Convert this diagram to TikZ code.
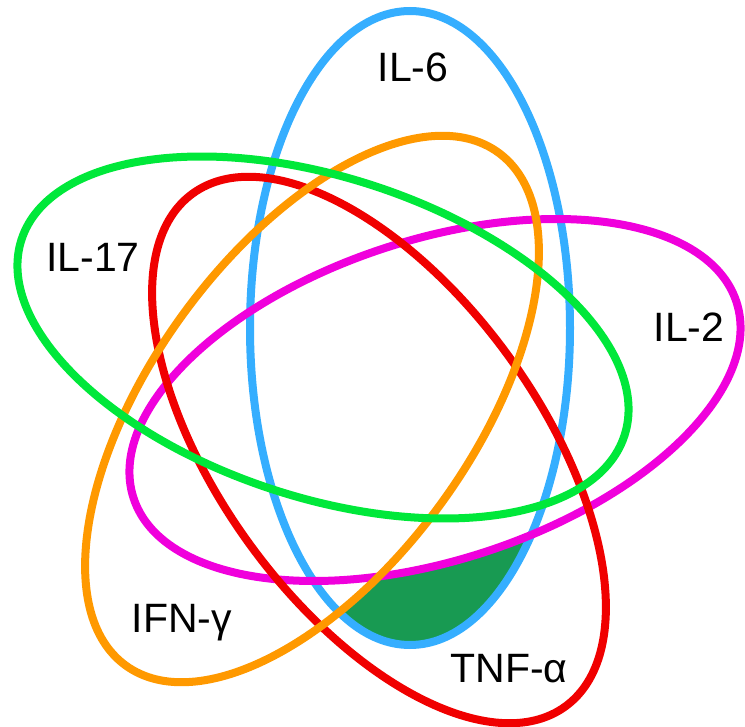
\documentclass[tikz,border=0pt]{standalone}
\usepackage{fontspec}
\setmainfont{Liberation Sans}
\definecolor{cblue}{RGB}{53,174,255}
\definecolor{cgreen}{RGB}{0,232,58}
\definecolor{cmag}{RGB}{240,0,220}
\definecolor{cred}{RGB}{240,0,0}
\definecolor{corange}{RGB}{255,153,0}
\definecolor{cfill}{RGB}{24,154,82}
\tikzset{
  ring/.style={line width=8pt},
  lbl/.style={anchor=base, inner sep=0pt, font=\fontsize{41}{48}\selectfont}
}
\begin{document}
\begin{tikzpicture}[x=1pt,y=-1pt]
\useasboundingbox (0,0) rectangle (745,727);
% filled region
\begin{scope}
  \clip[rotate around={90:(410,328)}] (410,328) ellipse [x radius=317pt, y radius=160pt];
  \clip[rotate around={126:(379,450)}] (379,450) ellipse [x radius=317pt, y radius=160pt];
  \fill[cfill] (0,0) rectangle (745,727);
  \fill[white,rotate around={18:(435,400)}] (435,400) ellipse [x radius=317pt, y radius=160pt];
  \fill[white,rotate around={54:(312,409)}] (312,409) ellipse [x radius=317pt, y radius=160pt];
  \fill[white,rotate around={162:(323,337.5)}] (323,337.5) ellipse [x radius=317pt, y radius=160pt];
\end{scope}
\draw[ring,cblue,rotate around={90:(410,328)}] (410,328) ellipse [x radius=317pt, y radius=160pt];
\draw[ring,cmag,rotate around={18:(435,400)}] (435,400) ellipse [x radius=317pt, y radius=160pt];
\draw[ring,cred,rotate around={126:(379,450)}] (379,450) ellipse [x radius=317pt, y radius=160pt];
\draw[ring,corange,rotate around={54:(312,409)}] (312,409) ellipse [x radius=317pt, y radius=160pt];
\draw[ring,cgreen,rotate around={162:(323,337.5)}] (323,337.5) ellipse [x radius=317pt, y radius=160pt];
% labels
\node[lbl] (il6) at (413,82) {IL-6};
\node[lbl] (il17) at (93,272) {IL-17};
\node[lbl] (il2) at (689,342) {IL-2};
\node[lbl] (ifn) at (182,632) {IFN-γ};
\node[lbl] (tnf) at (509,682) {TNF-α};
\end{tikzpicture}
\end{document}
